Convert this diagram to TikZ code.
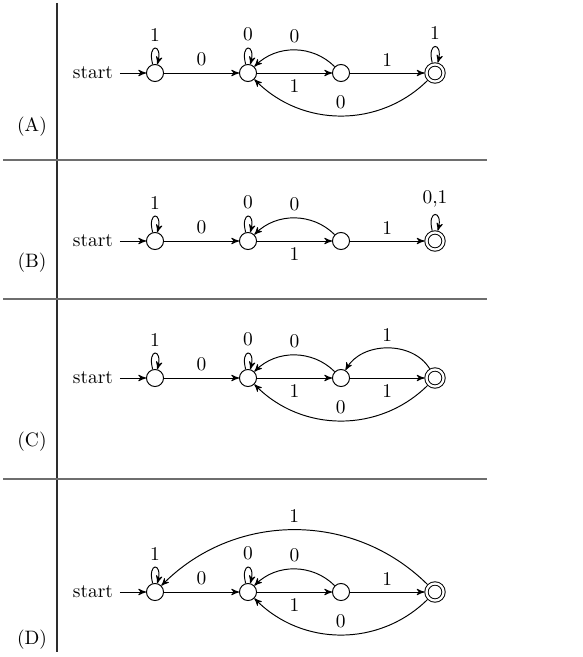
\documentclass[tikz,border=0pt]{standalone}
\usepackage{tikz}
\usepackage{amsmath}
\usetikzlibrary{arrows}
\definecolor{rule_gray}{RGB}{110,110,110}
\definecolor{rule_dark}{RGB}{45,45,45}
\tikzstyle{st}=[circle,draw=black,line width=0.5pt,inner sep=0pt,
  minimum width=8.8pt,minimum height=8.8pt]
\tikzstyle{acc}=[st,double,double distance=1.2pt,outer sep=1.1pt]
\tikzstyle{tr}=[->,line width=0.5pt]

\begin{document}
\begin{tikzpicture}[x=0.515pt,y=0.515pt,>=stealth',
    every loop/.style={min distance=4mm,looseness=8}]
        \useasboundingbox (0,0) rectangle (583,-657);
        % table rules
        \draw[rule_dark,line width=0.8pt] (57,-3) -- (57,-652);
        \draw[rule_gray,line width=0.9pt] (3,-160) -- (487,-160);
        \draw[rule_gray,line width=0.9pt] (3,-299) -- (487,-299);
        \draw[rule_gray,line width=0.9pt] (3,-479) -- (487,-479);
        % (A)
        \node (lA) at (32,-127) {(A)};
        \node (0A) at (93,-73) {start};
        \node[style=st] (1A) at (155,-73) {};
        \node[style=st] (2A) at (248,-73) {};
        \node[style=st] (3A) at (341,-73) {};
        \node[style=acc] (4A) at (435,-73) {};
        \draw[tr] (0A) to (1A);
        \draw[tr] (1A) to[loop above] node[above] {1} (1A);
        \draw[tr] (1A) to node[above] {0} (2A);
        \draw[tr] (2A) to[loop above] node[above] {0} (2A);
        \draw[tr] (2A) to node[below] {1} (3A);
        \draw[tr] (3A) to[bend right=45] node[above] {0} (2A);
        \draw[tr] (3A) to node[above] {1} (4A);
        \draw[tr] (4A) to[loop above] node[above] {1} (4A);
        \draw[tr] (4A) to[bend left=45] node[above] {0} (2A);
        % (B)
        \node (lB) at (32,-263) {(B)};
        \node (0B) at (93,-241) {start};
        \node[style=st] (1B) at (155,-241) {};
        \node[style=st] (2B) at (248,-241) {};
        \node[style=st] (3B) at (341,-241) {};
        \node[style=acc] (4B) at (435,-241) {};
        \draw[tr] (0B) to (1B);
        \draw[tr] (1B) to[loop above] node[above] {1} (1B);
        \draw[tr] (1B) to node[above] {0} (2B);
        \draw[tr] (2B) to[loop above] node[above] {0} (2B);
        \draw[tr] (2B) to node[below] {1} (3B);
        \draw[tr] (3B) to[bend right=45] node[above] {0} (2B);
        \draw[tr] (3B) to node[above] {1} (4B);
        \draw[tr] (4B) to[loop above] node[above] {0,1} (4B);
        % (C)
        \node (lC) at (32,-442) {(C)};
        \node (0C) at (93,-378) {start};
        \node[style=st] (1C) at (155,-378) {};
        \node[style=st] (2C) at (248,-378) {};
        \node[style=st] (3C) at (341,-378) {};
        \node[style=acc] (4C) at (435,-378) {};
        \draw[tr] (0C) to (1C);
        \draw[tr] (1C) to[loop above] node[above] {1} (1C);
        \draw[tr] (1C) to node[above] {0} (2C);
        \draw[tr] (2C) to[loop above] node[above] {0} (2C);
        \draw[tr] (2C) to node[below] {1} (3C);
        \draw[tr] (3C) to[bend right=45] node[above] {0} (2C);
        \draw[tr] (3C) to node[below] {1} (4C);
        \draw[tr] (4C) to[bend right=60] node[above] {1} (3C);
        \draw[tr] (4C) to[bend left=45] node[above] {0} (2C);
        % (D)
        \node (lD) at (32,-640) {(D)};
        \node (0D) at (93,-592) {start};
        \node[style=st] (1D) at (155,-592) {};
        \node[style=st] (2D) at (248,-592) {};
        \node[style=st] (3D) at (341,-592) {};
        \node[style=acc] (4D) at (435,-592) {};
        \draw[tr] (0D) to (1D);
        \draw[tr] (1D) to[loop above] node[above] {1} (1D);
        \draw[tr] (1D) to node[above] {0} (2D);
        \draw[tr] (2D) to[loop above] node[above] {0} (2D);
        \draw[tr] (2D) to node[below] {1} (3D);
        \draw[tr] (3D) to[bend right=45] node[above] {0} (2D);
        \draw[tr] (3D) to node[above] {1} (4D);
        \draw[tr] (4D) to[bend left=45] node[above] {0} (2D);
        \draw[tr] (4D) to[bend right=45] node[above] {1} (1D);
    \end{tikzpicture}
\end{document}
